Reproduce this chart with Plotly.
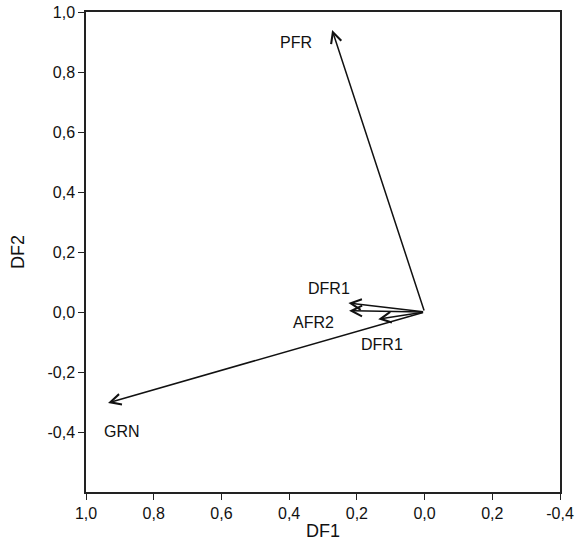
import plotly.graph_objects as go

# Data
labels = ["PFR", "DFR1", "AFR2", "DFR1", "GRN"]
df1 = [0.273, 0.225, 0.223, 0.137, 0.935]
df2 = [0.94, 0.03, 0.004, -0.024, -0.303]

x_tickvals = [1.0, 0.8, 0.6, 0.4, 0.2, 0.0, -0.2, -0.4]
x_ticktext = ["1,0", "0,8", "0,6", "0,4", "0,2", "0,0", "0,2", "-0,4"]
y_tickvals = [-0.4, -0.2, 0.0, 0.2, 0.4, 0.6, 0.8, 1.0]
y_ticktext = ["-0,4", "-0,2", "0,0", "0,2", "0,4", "0,6", "0,8", "1,0"]

# label offsets in pixels (style)
label_dx = [-36, -19, -36, 4, 14]
label_dy = [-12, 15, -12, -25, -29]

FONT = "Liberation Sans, Arial, sans-serif"

fig = go.Figure()
fig.add_trace(go.Scatter(x=[0], y=[0], mode="markers", marker=dict(size=1, color="rgba(0,0,0,0)"),
                         hoverinfo="skip", showlegend=False))

for i, lab in enumerate(labels):
    fig.add_annotation(x=df1[i], y=df2[i], ax=0, ay=0, xref="x", yref="y", axref="x", ayref="y",
                       text="", showarrow=True, arrowhead=5, arrowsize=1.4, arrowwidth=1.5,
                       arrowcolor="#111111", standoff=0, startstandoff=0)
    fig.add_annotation(x=df1[i], y=df2[i], xref="x", yref="y", text=lab, showarrow=False,
                       xshift=label_dx[i], yshift=label_dy[i],
                       font=dict(family=FONT, size=16, color="#111111"))

axis_common = dict(showgrid=False, zeroline=False, showline=True, linecolor="#222222", linewidth=1.5,
                   mirror=True, ticks="outside", ticklen=6, tickwidth=1, tickcolor="#222222",
                   automargin=False,
                   tickfont=dict(family=FONT, size=16, color="#111111"))

fig.update_layout(
    width=588, height=542,
    margin=dict(l=86, r=28, t=12, b=50),
    plot_bgcolor="white", paper_bgcolor="white",
    xaxis=dict(range=[1.0, -0.4], tickvals=x_tickvals, ticktext=x_ticktext,
               title=dict(text="DF1", font=dict(family=FONT, size=18, color="#111111"), standoff=3),
               **axis_common),
    yaxis=dict(range=[-0.6, 1.0], tickvals=y_tickvals, ticktext=y_ticktext,
               title=dict(text="DF2", font=dict(family=FONT, size=18, color="#111111"), standoff=18),
               **axis_common),
)

fig.write_html("out.html", config={"displayModeBar": False},
               post_script="document.body.style.margin='0';document.body.style.overflow='hidden';")
